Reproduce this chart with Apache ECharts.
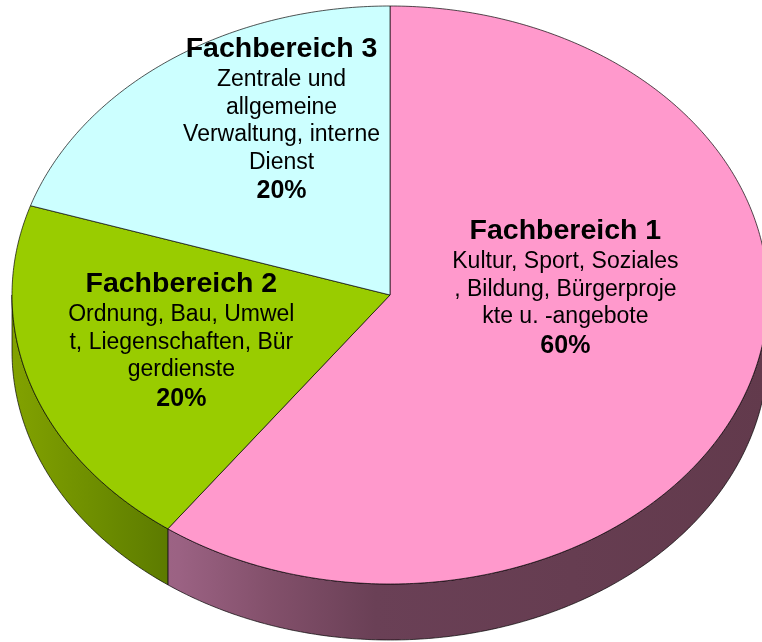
<!DOCTYPE html>
<html>
<head>
<meta charset="utf-8">
<title>Fachbereiche</title>
<script src="https://cdn.jsdelivr.net/npm/echarts@6/dist/echarts.min.js"></script>
<style>
  body { margin: 0; background: #fff; }
  #chart { width: 762px; height: 642px; }
</style>
</head>
<body>
<div id="chart"></div>
<script>
// data
const categories = ['Fachbereich 1', 'Fachbereich 2', 'Fachbereich 3'];
const descriptions = [
    ['Kultur, Sport, Soziales', ', Bildung, Bürgerproje', 'kte u. -angebote'],
    ['Ordnung, Bau, Umwel', 't, Liegenschaften, Bür', 'gerdienste'],
    ['Zentrale und', 'allgemeine', 'Verwaltung, interne', 'Dienst']
];
const shares = [60, 20, 20];

// look
const topColors = ['#ff99cc', '#99cc00', '#ccffff'];
const sideStops = [
    [[0, '#b06f94'], [0.22, '#9b6283'], [0.34, '#83506b'], [0.48, '#6a4056'], [1, '#623a4c']],
    [[0, '#82a200'], [0.12, '#6c8c00'], [0.22, '#5a7800'], [1, '#5a7800']],
    [[0, '#99cccc'], [1, '#99cccc']]
];
// label block centres, as fractions of the radii from the pie centre
const labelAnchors = [[0.464, -0.025], [-0.552, 0.158], [-0.287, -0.607]];

const CX = 390, CY = 295, RX = 378, RY = 289, DEPTH = 56;
const total = shares.reduce((a, b) => a + b, 0);
const starts = [];
shares.reduce((acc, v, i) => { starts[i] = acc; return acc + v; }, 0);

function pt(theta, dy) {
    return [CX + RX * Math.sin(theta), CY - RY * Math.cos(theta) + (dy || 0)];
}
function arc(a0, a1, dy) {
    const n = Math.max(2, Math.ceil(Math.abs(a1 - a0) / 0.01));
    const out = [];
    for (let k = 0; k <= n; k++) out.push(pt(a0 + (a1 - a0) * k / n, dy));
    return out;
}

const edge = { stroke: 'rgba(0,0,0,0.85)', lineWidth: 0.8 };
const FONT = 'Liberation Sans, Arial, sans-serif';

function renderItem(params, api) {
    const i = params.dataIndex;
    const v = api.value(0);
    const a0 = starts[i] / total * Math.PI * 2;
    const a1 = a0 + v / total * Math.PI * 2;
    const children = [];

    // visible side wall: front half of the ellipse (90deg..270deg clockwise from top)
    const s = Math.max(a0, Math.PI / 2), e = Math.min(a1, Math.PI * 1.5);
    if (e > s) {
        const pts = arc(s, e, 0).concat(arc(e, s, DEPTH));
        children.push({
            type: 'polygon', z2: 1,
            shape: { points: pts },
            style: Object.assign({
                fill: {
                    type: 'linear', x: CX - RX, y: 0, x2: CX + RX, y2: 0, global: true,
                    colorStops: sideStops[i].map(c => ({ offset: c[0], color: c[1] }))
                }
            }, edge)
        });
    }

    // top face
    children.push({
        type: 'polygon', z2: 2,
        shape: { points: [[CX, CY]].concat(arc(a0, a1, 0)) },
        style: Object.assign({ fill: topColors[i] }, edge)
    });

    // label
    const pct = Math.round(v / total * 100) + '%';
    const lines = ['{t|' + categories[i] + '}']
        .concat(descriptions[i].map(l => '{b|' + l + '}'))
        .concat(['{p|' + pct + '}']);
    children.push({
        type: 'text', z2: 3,
        style: {
            text: lines.join('\n'),
            x: CX + labelAnchors[i][0] * RX,
            y: CY + labelAnchors[i][1] * RY,
            align: 'center',
            verticalAlign: 'middle',
            fill: '#000',
            rich: {
                t: { fontFamily: FONT, fontWeight: 'bold', fontSize: 28.5, lineHeight: 34, align: 'center', fill: '#000' },
                b: { fontFamily: FONT, fontSize: 23, lineHeight: 27.5, align: 'center', fill: '#000' },
                p: { fontFamily: FONT, fontWeight: 'bold', fontSize: 25, lineHeight: 31, align: 'center', fill: '#000' }
            }
        }
    });

    return { type: 'group', children: children };
}

const chart = echarts.init(document.getElementById('chart'), null, { renderer: 'canvas' });
chart.setOption({
    animation: false,
    series: [{
        type: 'custom',
        coordinateSystem: 'none',
        renderItem: renderItem,
        data: shares.map((v, i) => ({ name: categories[i], value: [v] }))
    }]
});
</script>
</body>
</html>
